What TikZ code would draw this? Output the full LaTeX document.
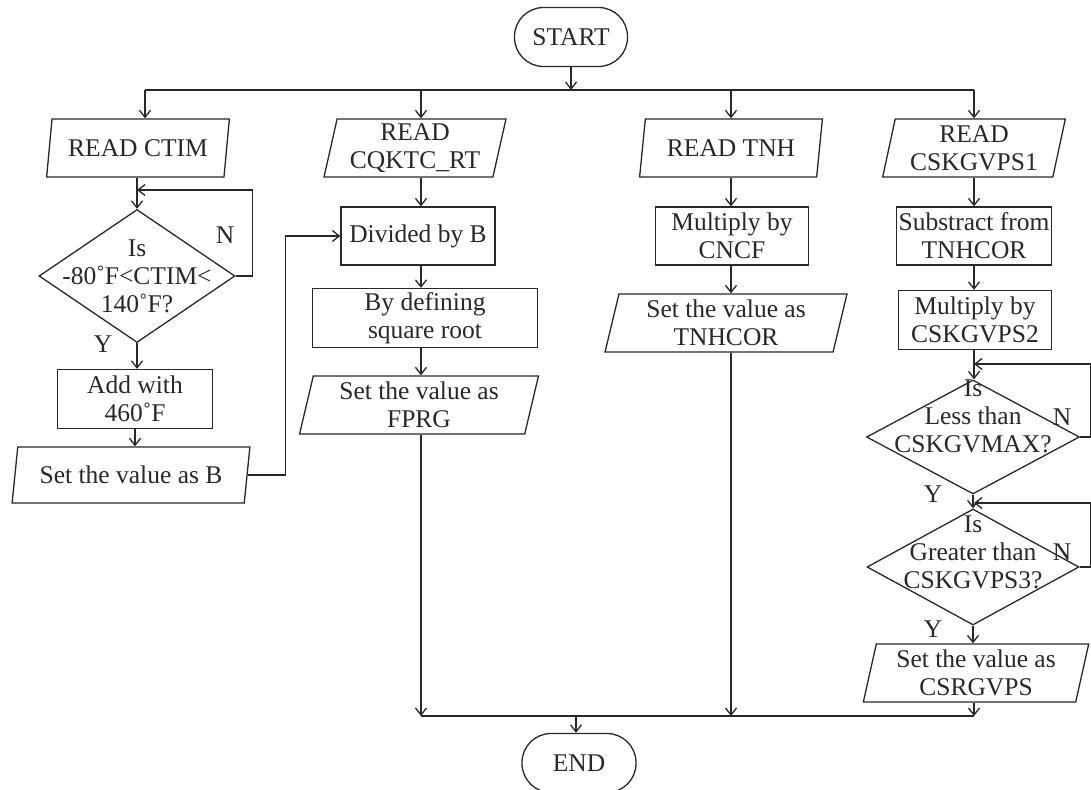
\documentclass[tikz,border=0pt]{standalone}
\usepackage{fontspec}
\setmainfont{Liberation Serif}
\usetikzlibrary{shapes.geometric,arrows.meta}
\definecolor{lc}{RGB}{40,40,40}
\begin{document}
\begin{tikzpicture}[x=1pt,y=-1pt,
  every node/.style={font=\fontsize{25.5}{28}\selectfont, text=lc},
  base/.style={draw=lc, line width=1.3pt, inner sep=2pt, align=center},
  term/.style={base, rectangle, rounded corners=29pt, minimum width=113pt, minimum height=59pt},
  proc/.style={base, rectangle, minimum height=58pt},
  io/.style={base, trapezium, trapezium left angle=78, trapezium right angle=102,
             trapezium stretches=true, minimum height=58pt},
  dec/.style={base, diamond, inner sep=0pt},
  tag/.style={inner sep=0pt, align=center},
  arr/.style={draw=lc, line width=1.3pt, -{Straight Barb[length=7pt,width=11pt]}},
  ln/.style={draw=lc, line width=1.3pt},
]
\useasboundingbox (0,0) rectangle (1091,789);

% terminals
\node[term] (start) at (571,37) {START};
\node[term, minimum width=114pt] (end) at (579,763) {END};

% junctions on the upper and lower buses
\coordinate (js) at (571,90);
\coordinate (j1) at (145,90);
\coordinate (j2) at (421,90);
\coordinate (j3) at (731,90);
\coordinate (j4) at (974,90);
\coordinate (k2) at (421,716);
\coordinate (k3) at (731,716);
\coordinate (k4) at (974,716);
\coordinate (ke) at (576,716);

% column 1: CTIM
\node[io, minimum width=183pt] (ctim) at (138,148) {READ CTIM};
\node[dec, minimum width=196pt, minimum height=133pt,
      label={[tag]center:{Is\\-80˚F<CTIM<\\140˚F?}}] (d1) at (137,276) {};
\node[proc, minimum width=155pt, minimum height=59pt] (add) at (135,399) {Add with\\460˚F};
\node[io, minimum width=238pt, minimum height=56pt] (setb) at (131,475) {Set the value as B};
\node[tag] (n1) at (225,235) {N};
\node[tag] (y1) at (103,344) {Y};
\coordinate (e1) at (137,190);

% column 2: CQKTC_RT
\node[io, minimum width=182pt] (cq) at (415,148) {READ\\CQKTC\_RT};
\node[proc, minimum width=154pt] (div) at (418,236) {Divided by B};
\node[proc, minimum width=225pt, minimum height=59pt] (sqr) at (425,318) {By defining\\square root};
\node[io, minimum width=239pt] (fprg) at (419,405) {Set the value as\\FPRG};

% column 3: TNH
\node[io, minimum width=183pt] (tnh) at (731,148) {READ TNH};
\node[proc, minimum width=153pt] (cncf) at (732,236) {Multiply by\\CNCF};
\node[io, minimum width=242pt] (tnhcor) at (726,323) {Set the value as\\TNHCOR};

% column 4: CSKGVPS1
\node[io, minimum width=183pt] (ck1) at (974,148) {READ\\CSKGVPS1};
\node[proc, minimum width=154pt] (sub) at (974,236) {Substract from\\TNHCOR};
\node[proc, minimum width=153pt, minimum height=59pt] (mul2) at (975,320) {Multiply by\\CSKGVPS2};
\node[dec, minimum width=213pt, minimum height=114pt,
      label={[tag,yshift=21pt]center:{Is\\Less than\\CSKGVMAX?}}] (d2) at (973,437) {};
\node[dec, minimum width=212pt, minimum height=116pt,
      label={[tag,yshift=15pt]center:{Is\\Greater than\\CSKGVPS3?}}] (d3) at (973,567) {};
\node[io, minimum width=226pt] (csr) at (976,673) {Set the value as\\CSRGVPS};
\node[tag] (n2) at (1062,417) {N};
\node[tag] (y2) at (933,494) {Y};
\node[tag] (n3) at (1062,552) {N};
\node[tag] (y3) at (933,629) {Y};
\coordinate (e2) at (974,364);
\coordinate (e3) at (974,503);

% upper bus and branches
\draw[arr] (start.south) -- (js);
\draw[ln] (j1) -- (j4);
\draw[arr] (j1) -- (j1 |- ctim.north);
\draw[arr] (j2) -- (j2 |- cq.north);
\draw[arr] (j3) -- (j3 |- tnh.north);
\draw[arr] (j4) -- (j4 |- ck1.north);

% column 1 flow
\draw[arr] (ctim.south -| d1.north) -- (d1.north);
\draw[arr] (d1.east) -- ++(17,0) |- (e1);
\draw[arr] (d1.south) -- (d1.south |- add.north);
\draw[arr] (add.south) -- (add.south |- setb.north);
\draw[arr] (setb.east) -- ++(38,0) |- (div.west);

% column 2 flow
\draw[arr] (cq.south -| j2) -- (div.north -| j2);
\draw[arr] (div.south -| j2) -- (sqr.north -| j2);
\draw[arr] (sqr.south -| j2) -- (fprg.north -| j2);
\draw[arr] (fprg.south -| j2) -- (k2);

% column 3 flow
\draw[arr] (tnh.south -| j3) -- (cncf.north -| j3);
\draw[arr] (cncf.south -| j3) -- (tnhcor.north -| j3);
\draw[arr] (tnhcor.south -| j3) -- (k3);

% column 4 flow
\draw[arr] (ck1.south -| j4) -- (sub.north -| j4);
\draw[arr] (sub.south -| j4) -- (mul2.north -| j4);
\draw[arr] (mul2.south -| j4) -- (d2.north -| j4);
\draw[arr] (d2.east) -- ++(10,0) |- (e2);
\draw[arr] (d2.south) -- (d3.north);
\draw[arr] (d3.east) -- ++(11,0) |- (e3);
\draw[arr] (d3.south) -- (d3.south |- csr.north);
\draw[arr] (csr.south -| j4) -- (k4);

% lower bus and end
\draw[ln] (k2) -- (k4);
\draw[arr] (ke) -- (ke |- end.north);
\end{tikzpicture}
\end{document}
